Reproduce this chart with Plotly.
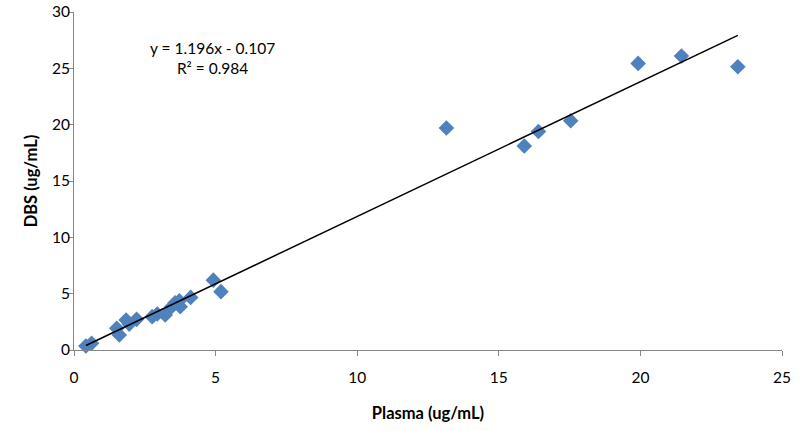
import plotly.graph_objects as go

plasma = [0.42, 0.62, 1.51, 1.60, 1.84, 1.95, 2.21, 2.76, 2.94, 3.22, 3.45, 3.57,
          3.75, 3.72, 4.12, 4.92, 5.19, 13.15, 15.90, 16.40, 17.54, 19.92, 21.45, 23.44]
dbs = [0.35, 0.60, 1.92, 1.33, 2.66, 2.30, 2.72, 2.96, 3.20, 3.10, 3.84, 4.20,
       3.84, 4.37, 4.67, 6.20, 5.18, 19.70, 18.10, 19.40, 20.35, 25.44, 26.10, 25.14]
slope = 1.196
intercept = -0.107
r2 = 0.984

x_ticks = [0, 5, 10, 15, 20, 25]
y_ticks = [0, 5, 10, 15, 20, 25, 30]

xmin, xmax = min(plasma), max(plasma)
line_x = [xmin, xmax]
line_y = [slope * v + intercept for v in line_x]

fig = go.Figure()
fig.add_trace(go.Scatter(x=plasma, y=dbs, mode="markers",
                         marker=dict(symbol="diamond", size=12, color="#4F81BD",
                                     line=dict(width=0)),
                         showlegend=False, cliponaxis=False))
fig.add_trace(go.Scatter(x=line_x, y=line_y, mode="lines",
                         line=dict(color="black", width=1.5), showlegend=False))

fig.add_annotation(x=4.9, y=25.9, xref="x", yref="y",
                   text=f"y = {slope}x - {abs(intercept)}<br>R² = {r2}",
                   showarrow=False, font=dict(family="Lato", size=15.5, color="black"),
                   align="center")

axis_common = dict(showgrid=False, zeroline=False, showline=True, linecolor="#868686",
                   linewidth=1, ticks="outside", ticklen=5, tickcolor="#868686",
                   automargin=False, ticklabeloverflow="allow",
                   tickfont=dict(family="Lato", size=15.5, color="black"))

fig.update_xaxes(range=[0, 25], tickvals=x_ticks, ticklabelstandoff=8,
                 title=dict(text="<b>Plasma (ug/mL)</b>", font=dict(family="Lato", size=16.5, color="black"),
                            standoff=22),
                 **axis_common)
fig.update_yaxes(range=[0, 30], tickvals=y_ticks, ticklabelstandoff=-5,
                 title=dict(text="<b>DBS (ug/mL)</b>", font=dict(family="Lato", size=16.5, color="black"),
                            standoff=10),
                 **axis_common)

fig.update_layout(width=800, height=431, plot_bgcolor="white", paper_bgcolor="white",
                  margin=dict(l=74, r=18, t=12, b=81))

fig.write_html("out.html", post_script="document.body.style.margin='0';",
               config={"displayModeBar": False})
